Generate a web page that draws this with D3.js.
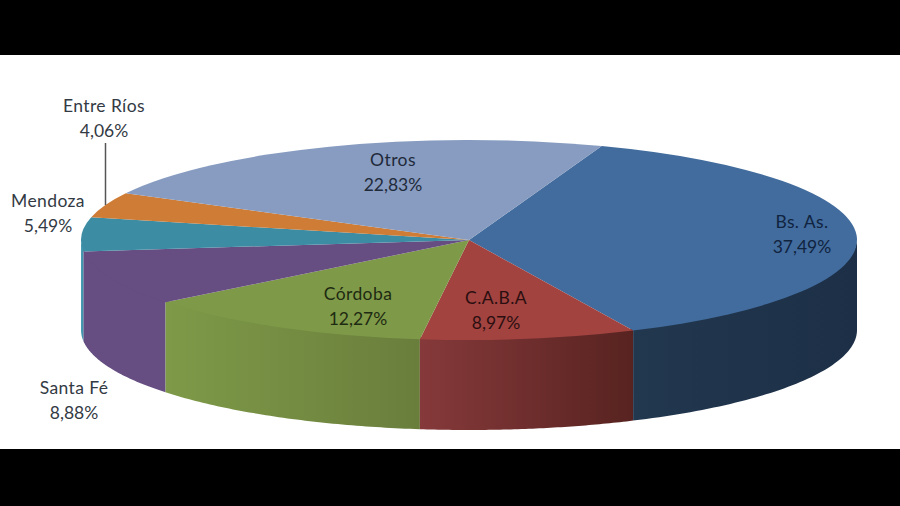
<!DOCTYPE html>
<html>
<head>
<meta charset="utf-8">
<script src="https://cdn.jsdelivr.net/npm/d3@7"></script>
<style>
    html, body { margin: 0; padding: 0; background: #fff; }
    svg { display: block; }
    text { font-family: Lato, "Open Sans", sans-serif; font-size: 17.5px; text-anchor: middle; }
    .name { letter-spacing: 0.4px; }
</style>
</head>
<body>
<svg id="chart" width="900" height="506"></svg>
<script>
//Values as printed on the chart, clockwise from the top.
var categories = ["Bs. As.", "C.A.B.A", "Córdoba", "Santa Fé", "Mendoza", "Entre Ríos", "Otros"];
var shares = [37.49, 8.97, 12.27, 8.88, 5.49, 4.06, 22.83];
var shareLabels = ["37,49%", "8,97%", "12,27%", "8,88%", "5,49%", "4,06%", "22,83%"];

//Colours for the top face, then the two ends of the side wall.
var topColors = ["#426c9d", "#a24340", "#7e9a48", "#664d82", "#3c8da4", "#cf7c37", "#879cc0"];
var sideLeft = ["#22384f", "#86393a", "#7e9a48", "#664d82", "#4aa0b8", "#cf7c37", "#879cc0"];
var sideRight = ["#1c2f47", "#572320", "#6a7e3c", "#664d82", "#3c8da4", "#cf7c37", "#879cc0"];
var textColors = ["#10233f", "#2b0f10", "#1e2a12", "#333a44", "#333a44", "#333a44", "#1f2a3a"];

//Where the label block is centred for each slice.
var labelX = [802, 496, 358, 74, 48, 104, 393];
var labelY = [222, 298, 294, 388, 201, 106, 160];

var width = 900,
    height = 506,
    centerX = 469,
    centerY = 240,
    radiusX = 388,
    radiusY = 100,
    depth = 90,
    startAngle = 20 * Math.PI / 180;

var svg = d3.select("#chart");

svg.append("rect").attr("width", width).attr("height", 55).attr("fill", "#000");
svg.append("rect").attr("y", 449).attr("width", width).attr("height", 57).attr("fill", "#000");

var slices = d3.pie()
    .sort(null)
    .startAngle(startAngle)
    .endAngle(startAngle + 2 * Math.PI)(shares);

//Turns a pie angle into a point on the tilted rim.
var rimX = d3.scaleLinear().domain([-1, 1]).range([centerX - radiusX, centerX + radiusX]);
var rimY = d3.scaleLinear().domain([-1, 1]).range([centerY + radiusY, centerY - radiusY]);

function rimPoint(angle, drop) {
    return [rimX(Math.sin(angle)), rimY(Math.cos(angle)) + drop];
}

//Gradients for the side walls, one per slice.
var defs = svg.append("defs");
slices.forEach(function (d, i) {
    var gradient = defs.append("linearGradient").attr("id", "side" + i);
    gradient.append("stop").attr("offset", "0%").attr("stop-color", sideLeft[i]);
    gradient.append("stop").attr("offset", "100%").attr("stop-color", sideRight[i]);
});

//Only the part of the rim between 90 and 270 degrees faces the viewer.
var line = d3.line();

function sidePath(d) {
    var from = Math.max(d.startAngle, Math.PI / 2),
        to = Math.min(d.endAngle, 3 * Math.PI / 2);
    if (from >= to) return null;
    var angles = d3.range(0, 61).map(function (k) { return from + (to - from) * k / 60; });
    //The upper edge sits a little under the top face so no light seam shows.
    var upper = angles.map(function (a) { return rimPoint(a, -2); });
    var lower = angles.slice().reverse().map(function (a) { return rimPoint(a, depth); });
    return line(upper.concat(lower)) + "Z";
}

//Back to front, so the nearer walls cover the edges of the others.
svg.append("g").selectAll("path")
    .data(slices.map(function (d, i) { return { slice: d, index: i }; }).reverse())
    .enter()
    .append("path")
    .attr("d", function (d) { return sidePath(d.slice); })
    .attr("fill", function (d) { return "url(#side" + d.index + ")"; });

//Top face: a plain pie squashed into the ellipse.
var arc = d3.arc().innerRadius(0).outerRadius(radiusX);

svg.append("g")
    .attr("transform", "translate(" + centerX + "," + centerY + ") scale(1," + (radiusY / radiusX) + ")")
    .selectAll("path")
    .data(slices)
    .enter()
    .append("path")
    .attr("d", arc)
    .attr("fill", function (d, i) { return topColors[i]; });

//Leader line for Entre Ríos.
svg.append("line")
    .attr("x1", 105.5).attr("x2", 105.5)
    .attr("y1", 143).attr("y2", 205)
    .attr("stroke", "#555")
    .attr("stroke-width", 1.5);

//Two-line labels.
var labels = svg.append("g").selectAll("text")
    .data(categories)
    .enter()
    .append("text")
    .attr("fill", function (d, i) { return textColors[i]; });

labels.append("tspan")
    .attr("class", "name")
    .attr("x", function (d, i) { return labelX[i]; })
    .attr("y", function (d, i) { return labelY[i] + 6; })
    .text(function (d) { return d; });

labels.append("tspan")
    .attr("x", function (d, i) { return labelX[i]; })
    .attr("y", function (d, i) { return labelY[i] + 31; })
    .text(function (d, i) { return shareLabels[i]; });
</script>
</body>
</html>
